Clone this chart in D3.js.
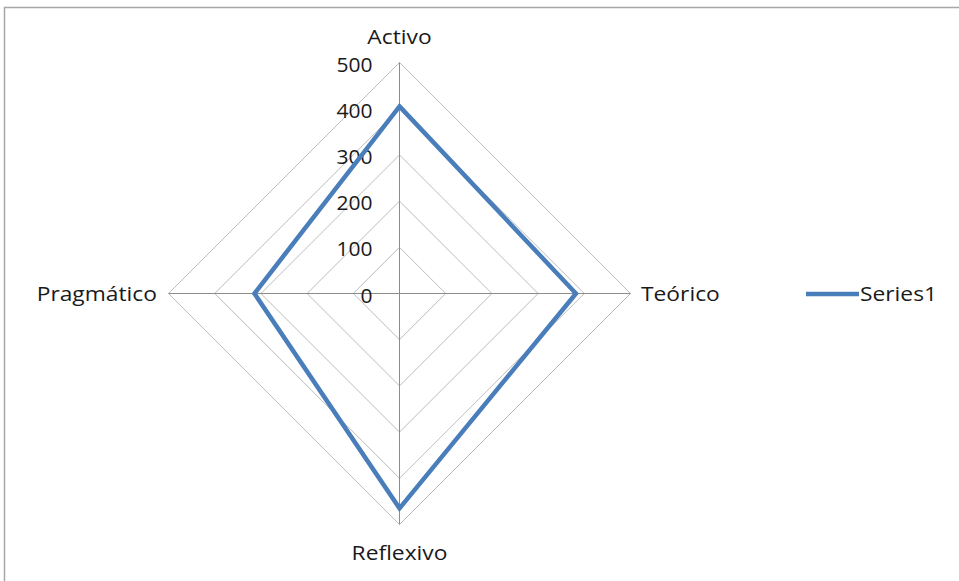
<!DOCTYPE html>
<html>
<head>
<meta charset="utf-8">
<script src="https://cdn.jsdelivr.net/npm/d3@7"></script>
<style>
  html, body { margin: 0; padding: 0; background: #fff; }
  svg { display: block; font-family: "Open Sans", "Noto Sans", sans-serif; }
</style>
</head>
<body>
<svg id="chart" width="959" height="581"></svg>
<script>
// chart data
const axes = ["Activo", "Teórico", "Reflexivo", "Pragmático"];
const series1 = [405, 382, 465, 314];
const ticks = [0, 100, 200, 300, 400, 500];
const seriesName = "Series1";

const svg = d3.select("#chart");
const cx = 399.5, cy = 293.5, R = 231;
const fontSize = 20;
const stretch = 1.14; // reference text is a bit wider than Open Sans

// outer frame
svg.append("rect")
  .attr("x", 4.5).attr("y", 7.5)
  .attr("width", 970).attr("height", 600)
  .attr("fill", "none").attr("stroke", "#a6a6a6").attr("stroke-width", 1.5);

const r = d3.scaleLinear().domain([0, 500]).range([0, R]);
const angle = d3.scalePoint().domain(axes).range([0, 2 * Math.PI * 3 / 4]);
const pt = (a, v) => [cx + r(v) * Math.sin(angle(a)), cy - r(v) * Math.cos(angle(a))];

// grid rings
ticks.slice(1).forEach((t) => {
  svg.append("path")
    .attr("d", d3.line()(axes.map((a) => pt(a, t))) + "Z")
    .attr("fill", "none").attr("stroke", "#bdbdbd").attr("stroke-width", 1);
});

// spokes
axes.forEach((a) => {
  const [x, y] = pt(a, 500);
  svg.append("line")
    .attr("x1", cx).attr("y1", cy).attr("x2", x).attr("y2", y)
    .attr("stroke", "#8c8c8c").attr("stroke-width", 1);
});

// tick labels along the top spoke
svg.selectAll(".tick-label").data(ticks).enter().append("text")
  .attr("class", "tick-label")
  .attr("transform", (d) => `translate(${cx - 27},${cy - r(d) + 2}) scale(1.05,1)`)
  .attr("dy", "0.35em")
  .attr("text-anchor", "end")
  .attr("font-size", fontSize).attr("fill", "#1a1a1a")
  .text((d) => d);

// category labels
const labelPos = {
  "Activo": { x: cx, y: 44, anchor: "middle" },
  "Teórico": { x: 641, y: 301, anchor: "start" },
  "Reflexivo": { x: cx, y: 560, anchor: "middle" },
  "Pragmático": { x: 157, y: 301, anchor: "end" },
};
axes.forEach((a) => {
  svg.append("text")
    .attr("transform", `translate(${labelPos[a].x},${labelPos[a].y}) scale(${stretch},1)`)
    .attr("text-anchor", labelPos[a].anchor)
    .attr("font-size", fontSize).attr("fill", "#1a1a1a")
    .text(a);
});

// data line
svg.append("path")
  .attr("d", d3.line()(axes.map((a, i) => pt(a, series1[i]))) + "Z")
  .attr("fill", "none").attr("stroke", "#4a7ebb")
  .attr("stroke-width", 4.5).attr("stroke-linejoin", "miter");

// legend
svg.append("line")
  .attr("x1", 806).attr("x2", 859).attr("y1", 294).attr("y2", 294)
  .attr("stroke", "#4a7ebb").attr("stroke-width", 4.5);
svg.append("text")
  .attr("transform", `translate(860,301) scale(${stretch},1)`)
  .attr("font-size", fontSize).attr("fill", "#1a1a1a")
  .text(seriesName);
</script>
</body>
</html>
